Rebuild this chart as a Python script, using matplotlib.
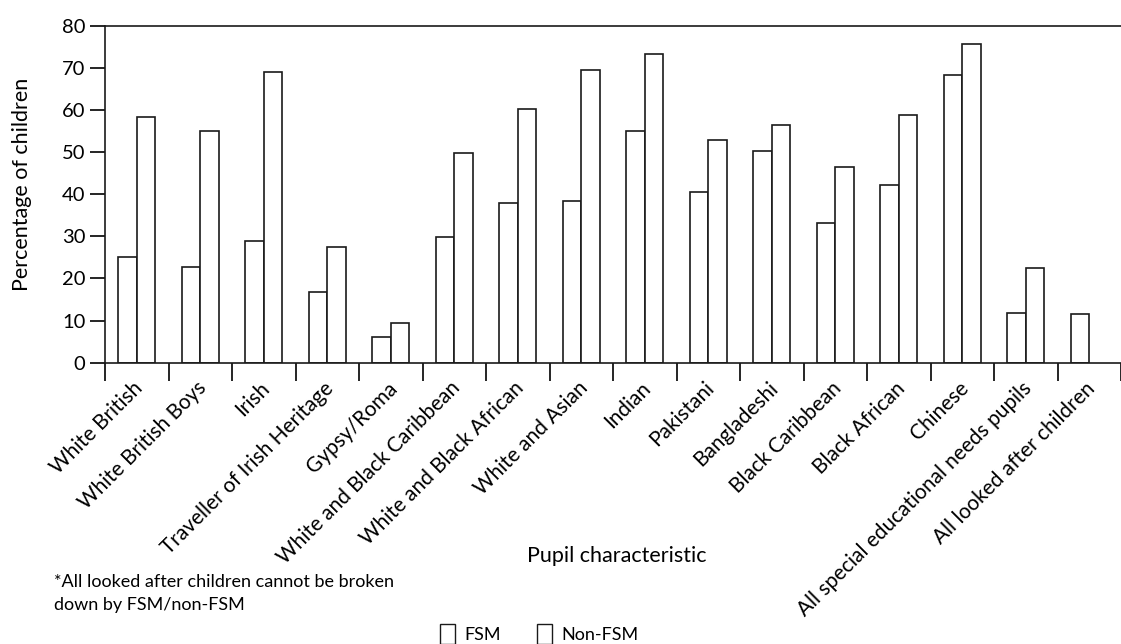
import numpy as np
import matplotlib
matplotlib.use("Agg")
import matplotlib.pyplot as plt
import matplotlib.transforms as mtransforms
from matplotlib.patches import Patch

# ---------------------------------------------------------------------- #
# Data
categories = ["White British", "White British Boys", "Irish",
              "Traveller of Irish Heritage", "Gypsy/Roma",
              "White and Black Caribbean", "White and Black African",
              "White and Asian", "Indian", "Pakistani", "Bangladeshi",
              "Black Caribbean", "Black African", "Chinese",
              "All special educational needs pupils",
              "All looked after children"]
fsm = [25.2, 22.7, 29.0, 16.7, 6.2, 29.9, 37.8, 38.5, 54.9, 40.5, 50.2,
       33.1, 42.1, 68.4, 11.9, 11.6]
nonFsm = [58.3, 54.9, 69.0, 27.5, 9.4, 49.9, 60.3, 69.5, 73.2, 52.9, 56.5,
          46.5, 58.7, 75.7, 22.6, np.nan]
yTicks = [0, 10, 20, 30, 40, 50, 60, 70, 80]

# ---------------------------------------------------------------------- #
plt.rcParams['font.family'] = ['Lato', 'DejaVu Sans']
plt.rcParams['font.size'] = 13

figure = plt.figure(figsize=(11.21, 6.44), dpi=100)
ax = figure.add_axes([0.0937, 0.4368, 0.9063, 0.5232])

x = np.arange(len(categories))
barWidth = 0.288
edge = "#1a1a1a"
ax.bar(x - barWidth / 2, fsm, barWidth, color="white", edgecolor=edge, linewidth=1.2)
ax.bar(x + barWidth / 2, nonFsm, barWidth, color="white", edgecolor=edge, linewidth=1.2)

# Axes and ticks
ax.set_xlim(-0.5, 15.33)
ax.set_ylim(0, 80)
ax.set_yticks(yTicks)
ax.tick_params(axis='y', length=11, width=1.2, pad=3, labelsize=14.5)
ax.set_xticks(np.arange(len(categories) + 1) - 0.5, minor=False)
ax.set_xticklabels([])
ax.tick_params(axis='x', which='major', length=13, width=1.2)
ax.set_xticks(x, minor=True)
ax.set_xticklabels(categories, minor=True, rotation=45, ha='right',
                   rotation_mode='anchor', fontsize=15)
ax.tick_params(axis='x', which='minor', length=0, pad=11)
# Nudge the slanted labels so they end under each group
shift = mtransforms.ScaledTranslation(-4 / 100, 0, figure.dpi_scale_trans)
for label in ax.get_xticklabels(minor=True):
    label.set_transform(label.get_transform() + shift)

for side in ['left', 'top', 'bottom']:
    ax.spines[side].set_linewidth(1.2)
    ax.spines[side].set_color(edge)
ax.spines['right'].set_visible(False)

figure.text(0.020, 0.713, "Percentage of children", rotation=90,
            ha='center', va='center', fontsize=15.5)
figure.text(0.5505, 0.137, "Pupil characteristic", ha='center', va='center', fontsize=15.5)

# Footnote
figure.text(0.048, 0.079, "*All looked after children cannot be broken\ndown by FSM/non-FSM",
            ha='left', va='center', fontsize=13, linespacing=1.55)

# Legend
handles = [Patch(facecolor="white", edgecolor=edge, linewidth=1.0, label="FSM"),
           Patch(facecolor="white", edgecolor=edge, linewidth=1.0, label="Non-FSM")]
figure.legend(handles=handles, loc='upper left', bbox_to_anchor=(0.378, 0.056),
              ncol=2, frameon=False, fontsize=13, handlelength=0.85, handleheight=1.3,
              columnspacing=2.0, handletextpad=0.5)

plt.savefig("out.png", dpi=100)
